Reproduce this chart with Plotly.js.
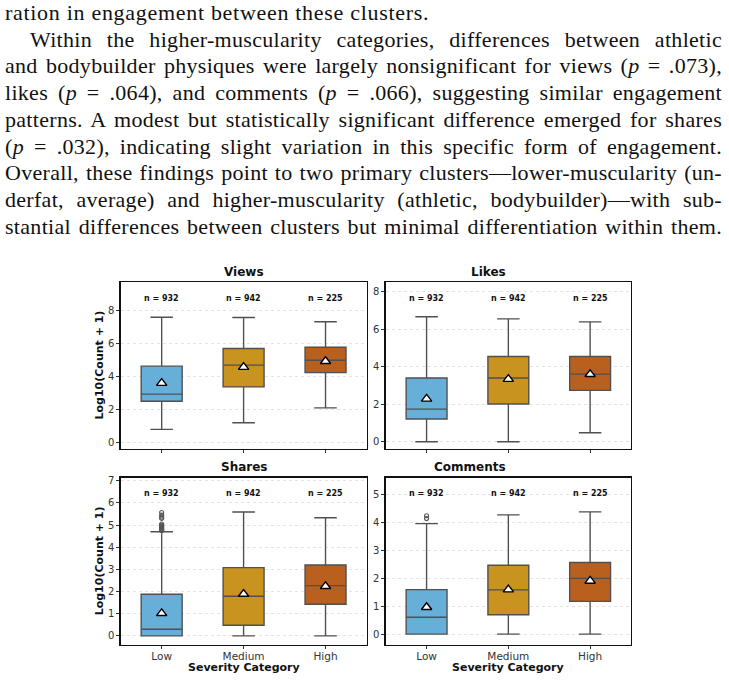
<!DOCTYPE html>
<html>
<head>
<meta charset="utf-8">
<script src="https://cdn.plot.ly/plotly-3.0.1.min.js"></script>
<style>
  html, body { margin:0; padding:0; background:#fff; }
  #wrap { position:relative; width:729px; height:681px; overflow:hidden; }
  #chart { position:absolute; left:0; top:0; width:729px; height:681px; }
  #para { position:absolute; left:5px; top:0px; width:717px; z-index:5;
          font-family:"Liberation Serif","DejaVu Serif",serif; font-size:22px; letter-spacing:0.3px;
          line-height:26.7px; color:#111; }
  #para div { text-align:justify; text-align-last:justify; white-space:nowrap; }
  #para div.first { text-align:left; text-align-last:left; letter-spacing:0.7px; }
  #para div.indent { padding-left:25px; }
  #para i { font-style:italic; }
</style>
</head>
<body>
<div id="wrap">
  <div id="chart"></div>
  <div id="para">
    <div class="first">ration in engagement between these clusters.</div>
    <div class="indent">Within the higher-muscularity categories, differences between athletic</div>
    <div>and bodybuilder physiques were largely nonsignificant for views (<i>p</i> = .073),</div>
    <div>likes (<i>p</i> = .064), and comments (<i>p</i> = .066), suggesting similar engagement</div>
    <div>patterns. A modest but statistically significant difference emerged for shares</div>
    <div>(<i>p</i> = .032), indicating slight variation in this specific form of engagement.</div>
    <div>Overall, these findings point to two primary clusters—lower-muscularity (un-</div>
    <div>derfat, average) and higher-muscularity (athletic, bodybuilder)—with sub-</div>
    <div>stantial differences between clusters but minimal differentiation within them.</div>
  </div>
</div>
<script>
// ---- data ----
const categories = ['Low', 'Medium', 'High'];
const nCounts = [932, 942, 225];
const boxColors = ['#66afd8', '#c9931f', '#b9601f'];

const viewsLo   = [0.79, 1.19, 2.10];
const viewsQ1   = [2.50, 3.37, 4.24];
const viewsMed  = [2.93, 4.69, 4.99];
const viewsQ3   = [4.63, 5.70, 5.78];
const viewsHi   = [7.60, 7.58, 7.33];
const viewsMean = [3.60, 4.57, 4.93];

const likesLo   = [0.00, 0.00, 0.48];
const likesQ1   = [1.21, 2.01, 2.74];
const likesMed  = [1.74, 3.40, 3.61];
const likesQ3   = [3.40, 4.55, 4.55];
const likesHi   = [6.67, 6.56, 6.40];
const likesMean = [2.29, 3.34, 3.60];

const sharesLo   = [0.00, 0.00, 0.00];
const sharesQ1   = [0.00, 0.48, 1.43];
const sharesMed  = [0.30, 1.79, 2.27];
const sharesQ3   = [1.88, 3.08, 3.20];
const sharesHi   = [4.70, 5.59, 5.33];
const sharesMean = [1.02, 1.89, 2.24];
const sharesOutLow = [4.75, 4.78, 4.82, 4.86, 4.90, 4.95, 5.00, 5.05, 5.30, 5.36, 5.45, 5.57];

const commentsLo   = [0.00, 0.00, 0.00];
const commentsQ1   = [0.00, 0.69, 1.17];
const commentsMed  = [0.60, 1.58, 1.99];
const commentsQ3   = [1.59, 2.46, 2.56];
const commentsHi   = [3.95, 4.26, 4.37];
const commentsMean = [0.96, 1.59, 1.90];
const commentsOutLow = [4.13, 4.23];

const panels = [
  {title:'Views',    lo:viewsLo,    q1:viewsQ1,    med:viewsMed,    q3:viewsQ3,    hi:viewsHi,    mean:viewsMean,    out:[],             range:[-0.40, 9.74], dtick:2, nY:8.75},
  {title:'Likes',    lo:likesLo,    q1:likesQ1,    med:likesMed,    q3:likesQ3,    hi:likesHi,    mean:likesMean,    out:[],             range:[-0.39, 8.53], dtick:2, nY:7.66},
  {title:'Shares',   lo:sharesLo,   q1:sharesQ1,   med:sharesMed,   q3:sharesQ3,   hi:sharesHi,   mean:sharesMean,   out:sharesOutLow,   range:[-0.41, 7.14], dtick:1, nY:6.43},
  {title:'Comments', lo:commentsLo, q1:commentsQ1, med:commentsMed, q3:commentsQ3, hi:commentsHi, mean:commentsMean, out:commentsOutLow, range:[-0.39, 5.59], dtick:1, nY:5.02}
];

// ---- layout geometry ----
const W = 729, H = 681;
const xDoms = [[120.7/W, 366.5/W], [385.7/W, 631/W]];
const yDoms = [[1-449/H, 1-282/H], [1-645/H, 1-477.7/H]];
const titleY = [1-272/H, 1-467/H];

const traces = [];
const annotations = [];
const layout = {
  width: W, height: H,
  margin: {l:0, r:0, t:0, b:0},
  paper_bgcolor: '#fff', plot_bgcolor: '#fff',
  showlegend: false,
  font: {family: 'DejaVu Sans, sans-serif', color: '#222'},
  annotations: annotations
};

panels.forEach((p, k) => {
  const col = k % 2, row = Math.floor(k / 2);
  const ax = k === 0 ? '' : String(k + 1);
  const xa = 'x' + ax, ya = 'y' + ax;
  categories.forEach((c, i) => {
    traces.push({
      type: 'box', xaxis: xa, yaxis: ya,
      x: [i], q1: [p.q1[i]], median: [p.med[i]], q3: [p.q3[i]],
      lowerfence: [p.lo[i]], upperfence: [p.hi[i]],
      fillcolor: boxColors[i],
      line: {color: '#505050', width: 1.4},
      width: 0.5, whiskerwidth: 0.55, boxpoints: false,
      hoverinfo: 'skip'
    });
    annotations.push({
      xref: xa, yref: ya, x: i, y: p.nY, yanchor: 'middle', text: '<b>n = ' + nCounts[i] + '</b>',
      showarrow: false, font: {size: 8, color: '#111'}
    });
  });
  traces.push({
    type: 'scatter', mode: 'markers', xaxis: xa, yaxis: ya,
    x: categories.map((c, i) => i), y: p.mean,
    marker: {symbol: 'triangle-up', size: 9, color: '#fff', line: {color: '#000', width: 1.4}},
    hoverinfo: 'skip'
  });
  if (p.out.length) {
    traces.push({
      type: 'scatter', mode: 'markers', xaxis: xa, yaxis: ya,
      x: p.out.map(() => 0), y: p.out,
      marker: {symbol: 'circle-open', size: 4, color: '#555', line: {color: '#555', width: 1.2}},
      hoverinfo: 'skip'
    });
  }
  layout['xaxis' + ax] = {
    domain: xDoms[col], anchor: ya, range: [-0.5, 2.5],
    tickmode: 'array', tickvals: [0, 1, 2], ticktext: row === 1 ? categories : ['', '', ''],
    ticks: 'outside', ticklen: 3, tickwidth: 1, tickcolor: '#333',
    ticklabelstandoff: -2,
    showgrid: false, zeroline: false,
    showline: true, linecolor: '#111', linewidth: 1.3, mirror: true,
    tickfont: {size: 10.5, color: '#333'}
  };
  layout['yaxis' + ax] = {
    domain: yDoms[row], anchor: xa, range: p.range,
    dtick: p.dtick, tick0: 0,
    ticks: 'outside', ticklen: 3, tickwidth: 1, tickcolor: '#333',
    showgrid: true, gridcolor: '#e4e4e4', griddash: 'dot', gridwidth: 1,
    zeroline: false,
    showline: true, linecolor: '#111', linewidth: 1.3, mirror: true,
    tickfont: {size: 10, color: '#333'}
  };
  annotations.push({
    xref: 'paper', yref: 'paper', x: (xDoms[col][0] + xDoms[col][1]) / 2, y: titleY[row],
    yanchor: 'middle',
    text: '<b>' + p.title + '</b>', showarrow: false, font: {size: 12, color: '#111'}
  });
  if (col === 0) {
    annotations.push({
      xref: 'paper', yref: 'paper', x: 99 / W, y: (yDoms[row][0] + yDoms[row][1]) / 2,
      xanchor: 'center', yanchor: 'middle', textangle: -90,
      text: '<b>Log10(Count + 1)</b>', showarrow: false, font: {size: 11, color: '#111'}
    });
  }
  if (row === 1) {
    annotations.push({
      xref: 'paper', yref: 'paper', x: (xDoms[col][0] + xDoms[col][1]) / 2, y: 1 - 667 / H,
      xanchor: 'center', yanchor: 'middle',
      text: '<b>Severity Category</b>', showarrow: false, font: {size: 11, color: '#111'}
    });
  }
});

Plotly.newPlot('chart', traces, layout, {staticPlot: true, displayModeBar: false});
</script>
</body>
</html>
